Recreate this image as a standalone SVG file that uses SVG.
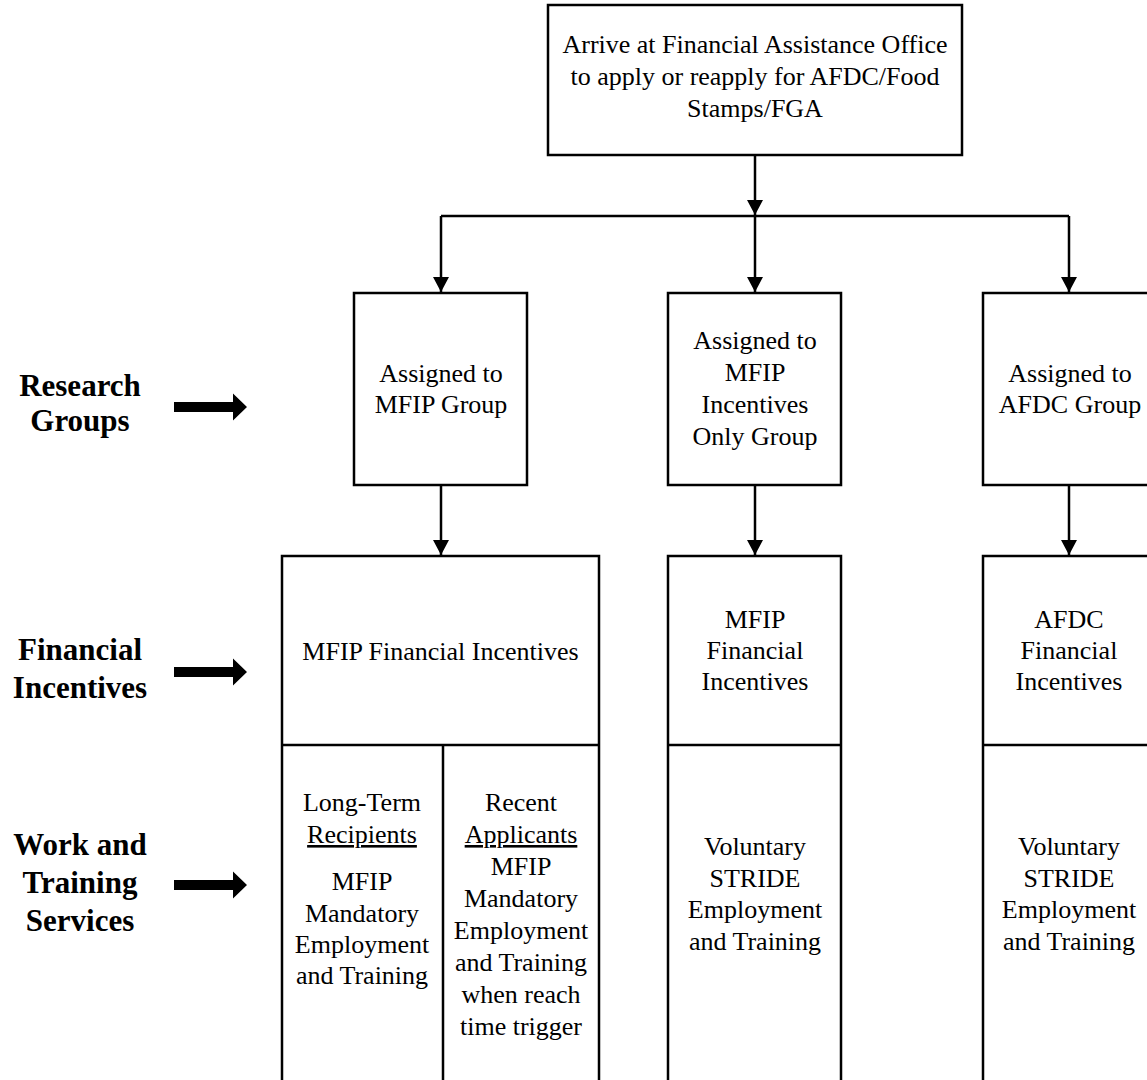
<svg xmlns="http://www.w3.org/2000/svg" width="1147" height="1080" viewBox="0 0 1147 1080">
<defs>
<style>
.box{fill:#fff;stroke:#000;stroke-width:2.5}
.ln{fill:none;stroke:#000;stroke-width:2.5}
.t{font-family:"Liberation Serif","Times New Roman",serif;font-size:26px;fill:#000;text-anchor:middle}
.b{font-family:"Liberation Serif","Times New Roman",serif;font-size:31px;font-weight:bold;fill:#000;text-anchor:middle}
.u{text-decoration:underline}
.big{fill:#000}
</style>
<marker id="ah" markerUnits="userSpaceOnUse" markerWidth="16" markerHeight="16" viewBox="0 0 16 16" refX="15" refY="8" orient="auto">
<path d="M0,0 L15,8 L0,16 Z" fill="#000"/>
</marker>
</defs>
<rect width="1147" height="1080" fill="#fff"/>

<g id="connectors">
<line class="ln" x1="755" y1="155" x2="755" y2="215" marker-end="url(#ah)"/>
<polyline class="ln" points="441,216 1069,216"/>
<line class="ln" x1="441" y1="216" x2="441" y2="292" marker-end="url(#ah)"/>
<line class="ln" x1="755" y1="216" x2="755" y2="292" marker-end="url(#ah)"/>
<line class="ln" x1="1069" y1="216" x2="1069" y2="292" marker-end="url(#ah)"/>
<line class="ln" x1="441" y1="485" x2="441" y2="555" marker-end="url(#ah)"/>
<line class="ln" x1="755" y1="485" x2="755" y2="555" marker-end="url(#ah)"/>
<line class="ln" x1="1069" y1="485" x2="1069" y2="555" marker-end="url(#ah)"/>
</g>

<g id="start">
<rect class="box" x="548" y="5" width="414" height="150"/>
<text class="t" x="755" y="53">Arrive at Financial Assistance Office</text>
<text class="t" x="755" y="85">to apply or reapply for AFDC/Food</text>
<text class="t" x="755" y="117">Stamps/FGA</text>
</g>

<g id="label-research">
<text class="b" x="80" y="396">Research</text>
<text class="b" x="80" y="431">Groups</text>
<polygon class="big" points="174,402 233,402 233,393.5 247,407 233,420.5 233,412 174,412"/>
</g>
<g id="label-financial">
<text class="b" x="80" y="660">Financial</text>
<text class="b" x="80" y="698">Incentives</text>
<polygon class="big" points="174,667 233,667 233,658.5 247,672 233,685.5 233,677 174,677"/>
</g>
<g id="label-work">
<text class="b" x="80" y="855">Work and</text>
<text class="b" x="80" y="893">Training</text>
<text class="b" x="80" y="931">Services</text>
<polygon class="big" points="174,880 233,880 233,871.5 247,885 233,898.5 233,890 174,890"/>
</g>

<g id="mfip-group">
<rect class="box" x="354" y="293" width="173" height="192"/>
<text class="t" x="441" y="382">Assigned to</text>
<text class="t" x="441" y="413">MFIP Group</text>
</g>
<g id="incentives-only-group">
<rect class="box" x="668" y="293" width="173" height="192"/>
<text class="t" x="755" y="349">Assigned to</text>
<text class="t" x="755" y="381">MFIP</text>
<text class="t" x="755" y="413">Incentives</text>
<text class="t" x="755" y="445">Only Group</text>
</g>
<g id="afdc-group">
<rect class="box" x="983" y="293" width="180" height="192"/>
<text class="t" x="1070" y="382">Assigned to</text>
<text class="t" x="1070" y="413">AFDC Group</text>
</g>

<g id="mfip-services">
<rect class="box" x="282" y="556" width="317" height="540"/>
<line class="ln" x1="282" y1="745" x2="599" y2="745"/>
<line class="ln" x1="443" y1="745" x2="443" y2="1096"/>
<text class="t" x="440.5" y="660">MFIP Financial Incentives</text>
<text class="t" x="362" y="811">Long-Term</text>
<text class="t u" x="362" y="843">Recipients</text>
<text class="t" x="362" y="890">MFIP</text>
<text class="t" x="362" y="922">Mandatory</text>
<text class="t" x="362" y="953">Employment</text>
<text class="t" x="362" y="984">and Training</text>
<text class="t" x="521" y="811">Recent</text>
<text class="t u" x="521" y="843">Applicants</text>
<text class="t" x="521" y="875">MFIP</text>
<text class="t" x="521" y="907">Mandatory</text>
<text class="t" x="521" y="939">Employment</text>
<text class="t" x="521" y="971">and Training</text>
<text class="t" x="521" y="1003">when reach</text>
<text class="t" x="521" y="1035">time trigger</text>
</g>

<g id="incentives-only-services">
<rect class="box" x="668" y="556" width="173" height="540"/>
<line class="ln" x1="668" y1="745" x2="841" y2="745"/>
<text class="t" x="755" y="628">MFIP</text>
<text class="t" x="755" y="659">Financial</text>
<text class="t" x="755" y="690">Incentives</text>
<text class="t" x="755" y="855">Voluntary</text>
<text class="t" x="755" y="887">STRIDE</text>
<text class="t" x="755" y="918">Employment</text>
<text class="t" x="755" y="950">and Training</text>
</g>

<g id="afdc-services">
<rect class="box" x="983" y="556" width="180" height="540"/>
<line class="ln" x1="983" y1="745" x2="1147" y2="745"/>
<text class="t" x="1069" y="628">AFDC</text>
<text class="t" x="1069" y="659">Financial</text>
<text class="t" x="1069" y="690">Incentives</text>
<text class="t" x="1069" y="855">Voluntary</text>
<text class="t" x="1069" y="887">STRIDE</text>
<text class="t" x="1069" y="918">Employment</text>
<text class="t" x="1069" y="950">and Training</text>
</g>
</svg>
